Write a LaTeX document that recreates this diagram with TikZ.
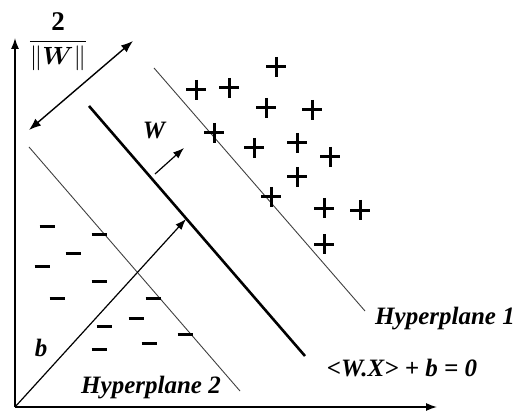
\documentclass[tikz,border=0pt]{standalone}
\usepackage{amsmath,bm}
\usepackage{fontspec}
\setmainfont{Liberation Serif}
\usetikzlibrary{arrows.meta}
\tikzset{
  lbl/.style={font=\fontsize{25}{28}\selectfont\bfseries\itshape, inner sep=0pt},
  axis/.style={line width=1.4pt, -{Latex[length=11pt,width=8pt]}},
  vec/.style={line width=1.2pt, -{Latex[length=11pt,width=8pt]}},
  margin/.style={line width=1.4pt, {Latex[length=12pt,width=9pt]}-{Latex[length=12pt,width=9pt]}},
  plane/.style={line width=0.9pt, black!75},
  boundary/.style={line width=2.6pt},
  plusmark/.style={line width=3pt},
  minusmark/.style={line width=3pt}
}
\begin{document}
\begin{tikzpicture}[x=1pt,y=-1pt]
  \useasboundingbox (0,0) rectangle (519,414);
  % axes
  \coordinate (O) at (15,407);
  \coordinate (ytop) at (15,38);
  \coordinate (xend) at (437,407);
  \draw[axis] (O) -- (ytop);
  \draw[axis] (O) -- (xend);
  % hyperplanes
  \coordinate (h1a) at (154,68);  \coordinate (h1b) at (365,311);
  \coordinate (h0a) at (89,106);  \coordinate (h0b) at (305,356);
  \coordinate (h2a) at (29,147);  \coordinate (h2b) at (240,391);
  \draw[plane] (h1a) -- (h1b);
  \draw[boundary] (h0a) -- (h0b);
  \draw[plane] (h2a) -- (h2b);
  % margin width
  \coordinate (ma) at (29,130);  \coordinate (mb) at (133,41);
  \draw[margin] (ma) -- (mb);
  \node[inner sep=0pt, font=\fontsize{27}{30}\selectfont] (frac) at (58,42)
    {$\dfrac{\mathbf{2}}{\|\bm{W}\|}$};
  % vectors b and W
  \coordinate (btip) at (186,219);
  \draw[vec] (O) -- (btip);
  \coordinate (wa) at (155,174);  \coordinate (wb) at (184,148);
  \draw[vec] (wa) -- (wb);
  \node[lbl] (wlbl) at (154,131) {W};
  \node[lbl] (blbl) at (41,348) {b};
  % labels
  \node[lbl, anchor=base] (hp1) at (445,324) {Hyperplane 1};
  \node[lbl, anchor=base] (hp2) at (151,393) {Hyperplane 2};
  \node[lbl, anchor=base] (eq) at (402,376) {<W.X> + b = 0};
  % positive class
  \foreach \px/\py in {276/67, 196/90, 229/88, 266/108, 312/110, 214/133,
      254/148, 297/143, 330/157, 297/177, 271/197, 324/208, 360/210, 324/244}
    \draw[plusmark] (\px-10,\py) -- +(20,0) (\px,\py-10) -- +(0,20);
  % negative class
  \foreach \px/\py in {47/226, 99/234, 73/253, 42/266, 99/281, 57/298,
      153/298, 136/318, 104/326, 185/334, 149/343, 99/349}
    \draw[minusmark] (\px-7.5,\py) -- +(15,0);
\end{tikzpicture}
\end{document}
